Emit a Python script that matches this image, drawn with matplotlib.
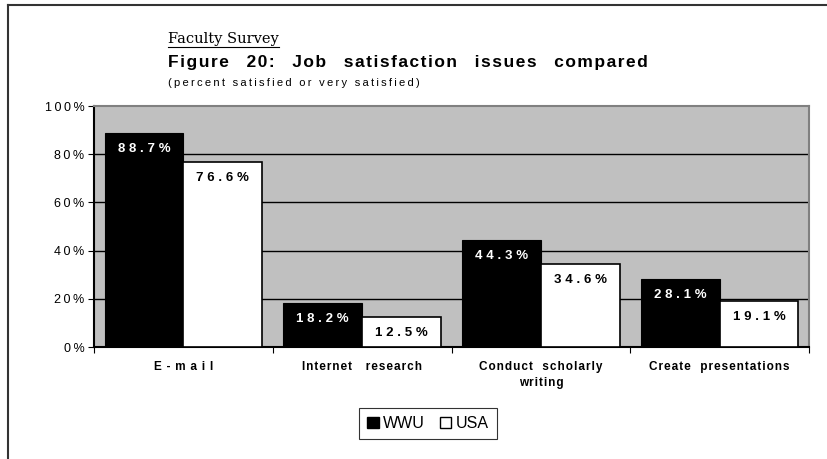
import numpy as np
import matplotlib
matplotlib.use("Agg")
import matplotlib.pyplot as plt
from matplotlib.patches import Patch
from matplotlib.lines import Line2D

categories = ["E-mail", "Internet   research", "Conduct  scholarly\nwriting", "Create  presentations"]
wwu = [88.7, 18.2, 44.3, 28.1]
usa = [76.6, 12.5, 34.6, 19.1]
y_ticks = [0, 20, 40, 60, 80, 100]

SANS = ["Liberation Sans", "DejaVu Sans"]
THIN = "\u2009"
HAIR = "\u200a"


def spaced(s, sep=THIN):
    # imitate the letter spacing of the original
    return "\n".join(sep.join(line) for line in s.split("\n"))


fig = plt.figure(figsize=(8.27, 4.59), dpi=100)
ax = fig.add_axes([94 / 827, 1 - 347 / 459, (809 - 94) / 827, (347 - 106) / 459])
ax.set_facecolor("#c0c0c0")

x = np.arange(len(categories))
w = 0.44
b1 = ax.bar(x - w / 2, wwu, w, color="black", edgecolor="black", linewidth=0.8, zorder=3)
b2 = ax.bar(x + w / 2, usa, w, color="white", edgecolor="black", linewidth=1.2, zorder=3)

for rects, vals, col in [(b1, wwu, "white"), (b2, usa, "black")]:
    for r, v in zip(rects, vals):
        ax.annotate(spaced(f"{v:.1f}%", THIN + HAIR), (r.get_x() + r.get_width() / 2, v),
                    xytext=(0, -11.5), textcoords="offset points",
                    ha="center", va="center", color=col, fontsize=9.5,
                    fontweight="bold", family=SANS, zorder=4)

ax.set_xlim(-0.5, len(categories) - 0.5)
ax.set_ylim(0, 100)
ax.set_yticks(y_ticks)
ax.set_yticklabels([spaced(f"{t}%") for t in y_ticks], family=SANS, fontsize=9)
for t in y_ticks[1:-1]:
    ax.axhline(t, color="black", linewidth=1.0, zorder=1)

ax.set_xticks(np.arange(-0.5, len(categories)), minor=False)
ax.set_xticklabels([])
ax.set_xticks(x, minor=True)
ax.set_xticklabels([spaced(c, THIN + THIN if c == "E-mail" else HAIR) for c in categories],
                   minor=True, family=SANS, fontsize=8.5, fontweight="bold", linespacing=1.5)
ax.tick_params(axis="x", which="minor", length=0, pad=10)
ax.tick_params(axis="x", which="major", length=4, direction="out", color="black")
ax.tick_params(axis="y", length=4, direction="out", color="black", pad=3)

ax.spines["left"].set_color("black")
ax.spines["bottom"].set_color("black")
ax.spines["top"].set_color("#808080")
ax.spines["right"].set_color("#808080")
for s in ax.spines.values():
    s.set_linewidth(1.5)

# titles
fig.text(168 / 827, 1 - 39 / 459, "Faculty Survey", family=["DejaVu Serif"],
         fontsize=10.5, va="center", ha="left")
fig.add_artist(Line2D([168 / 827, 279 / 827], [1 - 47 / 459, 1 - 47 / 459], color="black", linewidth=0.8))
fig.text(168 / 827, 1 - 62 / 459,
         spaced("Figure 20: Job satisfaction issues compared", HAIR).replace(" ", "   "),
         family=SANS, fontsize=12.5, fontweight="bold", va="center", ha="left")
fig.text(168 / 827, 1 - 83 / 459, spaced("(percent satisfied or very satisfied)", THIN),
         family=SANS, fontsize=8, va="center", ha="left")

handles = [Patch(facecolor="black", edgecolor="black", label="WWU"),
           Patch(facecolor="white", edgecolor="black", label="USA")]
leg = fig.legend(handles=handles, loc="center", bbox_to_anchor=(428 / 827, 1 - 423.5 / 459),
                 ncol=2, frameon=True, fancybox=False, edgecolor="black",
                 prop={"family": SANS, "size": 11.5}, handlelength=0.7, handleheight=0.7,
                 handletextpad=0.3, columnspacing=0.9, borderpad=0.5)
leg.get_frame().set_linewidth(0.8)

# outer frame (top and left edges)
fig.add_artist(Line2D([8 / 827, 1], [1 - 5 / 459, 1 - 5 / 459], color="#333333", linewidth=1.5))
fig.add_artist(Line2D([8 / 827, 8 / 827], [0, 1 - 5 / 459], color="#333333", linewidth=1.5))

fig.savefig("out.png", dpi=100)
